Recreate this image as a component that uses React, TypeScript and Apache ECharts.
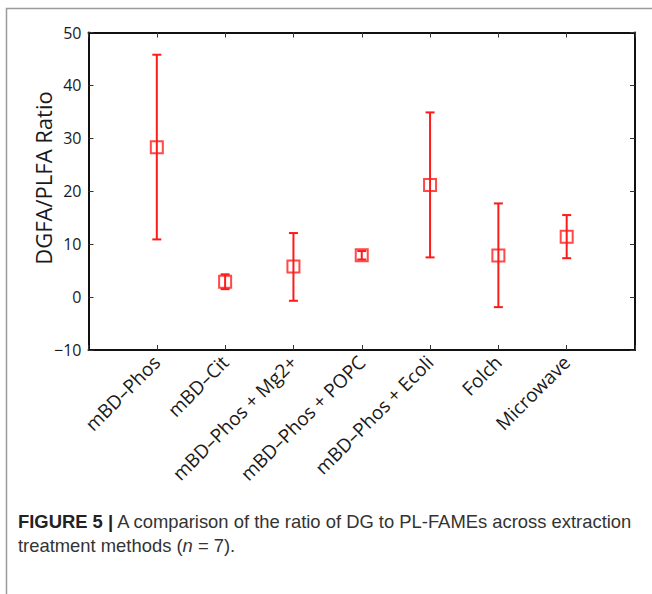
import React, { useEffect, useRef } from "react";
import * as echarts from "echarts";

const categories = [
  "mBD–Phos",
  "mBD–Cit",
  "mBD–Phos + Mg2+",
  "mBD–Phos + POPC",
  "mBD–Phos + Ecoli",
  "Folch",
  "Microwave",
];
const means = [28.3, 2.9, 5.8, 7.9, 21.2, 7.85, 11.4];
const upper = [45.8, 4.3, 12.1, 8.7, 34.9, 17.7, 15.5];
const lower = [10.9, 1.5, -0.7, 7.1, 7.5, -1.9, 7.35];
const yTicks = [-10, 0, 10, 20, 30, 40, 50];
const yTitle = "DGFA/PLFA Ratio";

const RED = "#ff1a1a";

export default function App() {
  const ref = useRef<HTMLDivElement>(null);
  useEffect(() => {
    if (!ref.current) return;
    const chart = echarts.init(ref.current, undefined, { renderer: "svg" });
    const pts = categories.map((_, i) => [i + 1, means[i]]);
    const bars = categories.map((_, i) => [i + 1, lower[i], upper[i]]);
    const labelFont = "'Open Sans', 'Noto Sans', sans-serif";
    const capFont = "'Liberation Sans', Arial, sans-serif";
    const line = { onZero: false, lineStyle: { color: "#111", width: 2 } };
    const tick = { show: true, inside: true, length: 5, lineStyle: { color: "#333", width: 1 } };
    chart.setOption({
      animation: false,
      backgroundColor: "#fff",
      grid: { left: 88.5, top: 32.5, right: 17, bottom: 244, containLabel: false },
      xAxis: [
        {
          type: "value",
          min: 0,
          max: 8,
          interval: 1,
          position: "bottom",
          axisLine: line,
          axisTick: tick,
          splitLine: { show: false },
          axisLabel: {
            rotate: 45,
            margin: 9,
            fontSize: 19,
            fontFamily: labelFont,
            color: "#1a1a1a",
            formatter: (v: number) => (v >= 1 && v <= 7 ? categories[v - 1] : ""),
          },
        },
        {
          type: "value",
          min: 0,
          max: 8,
          interval: 1,
          position: "top",
          axisLine: line,
          axisTick: tick,
          splitLine: { show: false },
          axisLabel: { show: false },
        },
      ],
      yAxis: [
        {
          type: "value",
          min: -10,
          max: 50,
          interval: 10,
          position: "left",
          axisLine: { show: true, ...line },
          axisTick: tick,
          splitLine: { show: false },
          axisLabel: {
            fontSize: 16,
            fontFamily: labelFont,
            color: "#1a1a1a",
            margin: 7,
            formatter: (v: number) => (yTicks.includes(v) ? (v < 0 ? "−" + Math.abs(v) : String(v)) : ""),
          },
        },
        {
          type: "value",
          min: -10,
          max: 50,
          interval: 10,
          position: "right",
          axisLine: { show: true, ...line },
          axisTick: tick,
          splitLine: { show: false },
          axisLabel: { show: false },
        },
      ],
      series: [
        {
          type: "custom",
          data: bars,
          renderItem: (params: any, api: any) => {
            const x = api.value(0);
            const lo = api.coord([x, api.value(1)]);
            const hi = api.coord([x, api.value(2)]);
            const cw = 4.5;
            const style = { stroke: RED, lineWidth: 2 };
            return {
              type: "group",
              children: [
                { type: "line", shape: { x1: lo[0], y1: lo[1], x2: hi[0], y2: hi[1] }, style },
                { type: "line", shape: { x1: hi[0] - cw, y1: hi[1], x2: hi[0] + cw, y2: hi[1] }, style },
                { type: "line", shape: { x1: lo[0] - cw, y1: lo[1], x2: lo[0] + cw, y2: lo[1] }, style },
              ],
            };
          },
          z: 2,
        },
        {
          type: "scatter",
          data: pts,
          symbol: "rect",
          symbolSize: 12,
          itemStyle: { color: "rgba(0,0,0,0)", borderColor: RED, borderWidth: 2 },
          z: 3,
        },
      ],
      graphic: [
        {
          type: "rect",
          shape: { x: 6.5, y: 8.5, width: 800, height: 800 },
          style: { fill: "none", stroke: "#9a9a9a", lineWidth: 1.5 },
          silent: true,
        },
        {
          type: "text",
          x: 43,
          y: 178,
          rotation: Math.PI / 2,
          style: {
            text: yTitle,
            fontSize: 22,
            fontFamily: labelFont,
            fill: "#1a1a1a",
            align: "center",
            verticalAlign: "middle",
          },
        },
        {
          type: "text",
          left: 18,
          top: 512,
          style: {
            text: "{b|FIGURE 5 |} A comparison of the ratio of DG to PL-FAMEs across extraction",
            fontSize: 18.4,
            fontFamily: capFont,
            fill: "#333",
            rich: {
              b: { fontWeight: "bold", fontSize: 18.4, fontFamily: capFont, fill: "#222" },
            },
          },
        },
        {
          type: "text",
          left: 18,
          top: 536,
          style: {
            text: "treatment methods ({i|n} = 7).",
            fontSize: 18.4,
            fontFamily: capFont,
            fill: "#333",
            rich: {
              i: { fontStyle: "italic", fontSize: 18.4, fontFamily: capFont, fill: "#333" },
            },
          },
        },
      ],
    });
    return () => chart.dispose();
  }, []);
  return <div ref={ref} style={{ width: 652, height: 594, position: "absolute", left: 0, top: 0 }} />;
}
